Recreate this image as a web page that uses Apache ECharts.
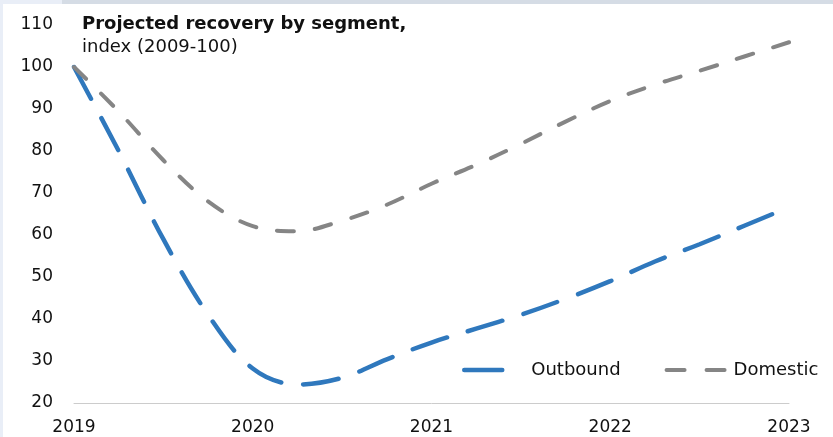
<!DOCTYPE html>
<html>
<head>
<meta charset="utf-8">
<script src="https://cdn.jsdelivr.net/npm/echarts@6/dist/echarts.min.js"></script>
<style>
html,body{margin:0;padding:0;background:#fff;}
#chart{width:833px;height:437px;}
</style>
</head>
<body>
<div id="chart"></div>
<script>
// Quarterly time points (year fractions)
var periods = [2019.0, 2019.25, 2019.5, 2019.75, 2020.0, 2020.25, 2020.5, 2020.75, 2021.0, 2021.25, 2021.5, 2021.75, 2022.0, 2022.25, 2022.5, 2022.75, 2023.0];
var outbound = [100, 80, 59, 41, 28.2, 24.4, 26, 30.4, 34.4, 37.7, 41, 44.8, 49, 53.7, 57.8, 62.2, 66.6];
var domestic = [100, 89.4, 77.8, 68, 62.1, 60.9, 63.4, 67.2, 72.2, 76.7, 81.7, 87, 91.9, 95.8, 99.1, 102.5, 105.9];
var yearTicks = [2019, 2020, 2021, 2022, 2023];
var titleLine1 = 'Projected recovery by segment,';
var titleLine2 = 'index (2009-100)';
var seriesNames = ['Outbound', 'Domestic'];

function pairs(xs, ys) { return xs.map(function (x, i) { return [x, ys[i]]; }); }

var BLUE = '#2f78bd', GREY = '#858585';
var FONT = '"DejaVu Sans", sans-serif';
var chart = echarts.init(document.getElementById('chart'), null, { renderer: 'canvas' });
chart.setOption({
  animation: false,
  backgroundColor: '#ffffff',
  textStyle: { fontFamily: FONT },
  graphic: [
    { type: 'rect', left: 0, top: 0, shape: { width: 62, height: 4 }, style: { fill: '#e9eef7' }, silent: true },
    { type: 'rect', left: 62, top: 0, shape: { width: 771, height: 4 }, style: { fill: '#d5dce5' }, silent: true },
    { type: 'rect', left: 0, top: 0, shape: { width: 3, height: 437 }, style: { fill: '#e9eef7' }, silent: true },
    {
      type: 'text', left: 82, top: 15,
      style: {
        text: '{b|' + titleLine1 + '}\n{r|' + titleLine2 + '}',
        rich: {
          b: { fontFamily: FONT, fontWeight: 'bold', fontSize: 18, fill: '#111', lineHeight: 23 },
          r: { fontFamily: FONT, fontSize: 18, fill: '#111', lineHeight: 23 }
        }
      }
    }
  ],
  grid: { left: 74, right: 44, top: 25, bottom: 34, containLabel: false },
  legend: {
    data: [
      { name: seriesNames[0], itemStyle: { color: 'rgba(0,0,0,0)', borderWidth: 0 },
        lineStyle: { color: BLUE, width: 4.5, type: [38, 40], cap: 'round' } },
      { name: seriesNames[1], itemStyle: { color: 'rgba(0,0,0,0)', borderWidth: 0 },
        lineStyle: { color: GREY, width: 4, type: [18, 22], cap: 'round' } }
    ],
    left: 462, top: 361, padding: 0,
    itemWidth: 62, itemHeight: 16, itemGap: 44,
    textStyle: { fontFamily: FONT, fontSize: 18, color: '#111' }
  },
  xAxis: {
    type: 'value', min: 2019, max: 2023, interval: 1,
    axisLine: { show: true, lineStyle: { color: '#cccccc', width: 1 } },
    axisTick: { show: false },
    splitLine: { show: false },
    axisLabel: {
      fontFamily: FONT, fontSize: 17, color: '#111', margin: 16,
      formatter: function (v) { return yearTicks.indexOf(v) >= 0 ? String(v) : ''; }
    }
  },
  yAxis: {
    type: 'value', min: 20, max: 110, interval: 10,
    axisLine: { show: false },
    axisTick: { show: false },
    splitLine: { show: false },
    axisLabel: { fontFamily: FONT, fontSize: 17, color: '#111', margin: 21 }
  },
  series: [
    {
      name: seriesNames[0], type: 'line', data: pairs(periods, outbound),
      smooth: 0.35, symbol: 'none', showSymbol: false,
      lineStyle: { color: BLUE, width: 4.5, type: [36, 22], cap: 'round' },
      itemStyle: { color: BLUE }
    },
    {
      name: seriesNames[1], type: 'line', data: pairs(periods, domestic),
      smooth: 0.35, symbol: 'none', showSymbol: false,
      lineStyle: { color: GREY, width: 4, type: [17, 21], cap: 'round' },
      itemStyle: { color: GREY }
    }
  ]
});
</script>
</body>
</html>
